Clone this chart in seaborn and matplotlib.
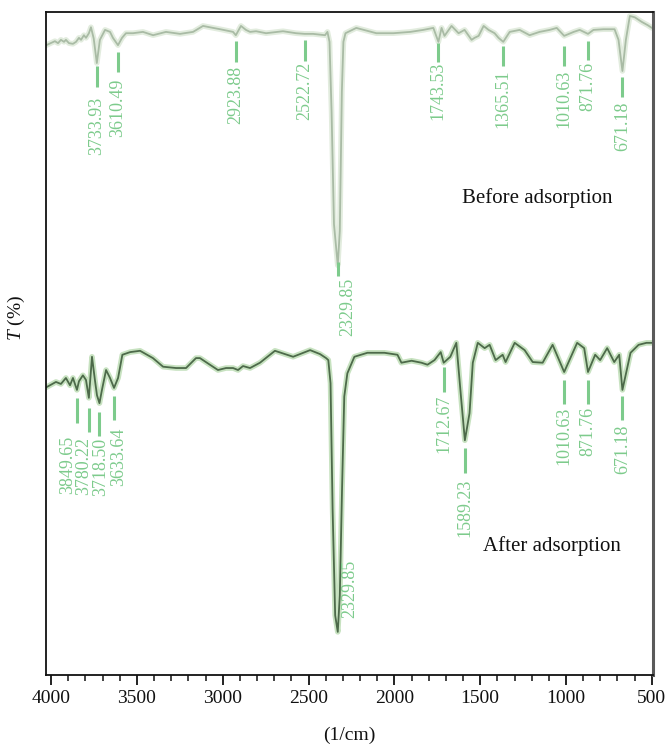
import numpy as np
import pandas as pd
import matplotlib
matplotlib.use("Agg")
import matplotlib.pyplot as plt
import seaborn as sns
from matplotlib.ticker import MultipleLocator

# FTIR spectrum before adsorption: wavenumber (1/cm) and transmittance (%)
before_wn = [4028, 3978, 3960, 3943, 3925, 3914, 3896, 3873, 3855, 3838, 3826, 3809,
             3797, 3780, 3768, 3752, 3733.93, 3716, 3686, 3657, 3640, 3610.49, 3587,
             3564, 3523, 3465, 3406, 3331, 3249, 3173, 3115, 3056, 3015, 2940, 2923.88,
             2894, 2865, 2841, 2806, 2748, 2649, 2573, 2522.72, 2474, 2404, 2390, 2378,
             2366, 2352, 2329.85, 2318, 2306, 2297, 2285, 2222, 2105, 2006, 1907, 1832,
             1773, 1743.53, 1725, 1708, 1667, 1626, 1591, 1550, 1533, 1509, 1480, 1451,
             1416, 1393, 1365.51, 1328, 1270, 1212, 1154, 1095, 1054, 1010.63, 955, 920,
             871.76, 840, 781, 717, 694, 671.18, 651, 628, 599, 558, 523, 500]
before_t = [95.0, 95.6, 95.3, 95.8, 95.5, 95.8, 95.3, 95.2, 95.5, 96.1, 95.8, 96.5,
            96.1, 96.8, 97.7, 96.0, 92.3, 95.8, 97.3, 97.0, 96.1, 95.0, 96.1,
            96.8, 96.8, 97.0, 96.5, 97.0, 96.7, 97.0, 97.9, 97.6, 97.4, 97.0, 96.5,
            97.9, 97.3, 97.0, 97.1, 96.8, 97.1, 96.8, 96.7, 96.7, 96.5, 97.0, 95.5,
            85.0, 68.0, 61.8, 67.0, 88.0, 95.5, 96.8, 97.6, 96.8, 96.8, 97.0, 97.3,
            97.6, 95.5, 97.6, 96.4, 97.9, 96.8, 97.3, 95.8, 96.1, 96.4, 97.9, 97.3,
            96.8, 96.1, 95.5, 97.0, 97.3, 96.5, 97.0, 97.3, 97.6, 96.4, 97.0, 97.3,
            96.7, 97.3, 97.4, 97.4, 95.8, 91.1, 95.8, 99.4, 99.2, 98.5, 98.0, 97.6]

# FTIR spectrum after adsorption
after_wn = [4028, 3972, 3943, 3914, 3890, 3873, 3849.65, 3838, 3815, 3797, 3780.22,
            3762, 3745, 3733, 3718.50, 3704, 3680, 3657, 3633.64, 3610, 3585, 3540,
            3482, 3407, 3348, 3272, 3214, 3156, 3133, 3075, 3028, 2981, 2940, 2911,
            2882, 2841, 2783, 2696, 2590, 2491, 2433, 2398, 2385, 2372, 2360, 2345,
            2329.85, 2318, 2305, 2292, 2274, 2233, 2157, 2058, 1982, 1959, 1900, 1842,
            1807, 1766, 1730, 1712.67, 1674, 1639, 1612, 1589.23, 1562, 1543, 1514,
            1474, 1445, 1410, 1369, 1352, 1299, 1241, 1194, 1136, 1078, 1010.63, 935,
            894, 871.76, 830, 801, 760, 719, 690, 671.18, 624, 577, 531, 500]
after_t = [43.4, 44.2, 43.9, 44.8, 43.7, 44.8, 43.0, 44.3, 45.2, 44.5, 41.8,
           48.0, 44.5, 42.2, 41.0, 43.0, 46.0, 44.8, 43.3, 44.8, 48.3, 48.7,
           48.9, 47.8, 46.5, 46.3, 46.3, 47.8, 47.8, 46.8, 46.0, 46.3, 46.3, 46.0,
           46.6, 46.3, 47.1, 48.9, 48.0, 49.0, 48.4, 47.8, 47.5, 44.0, 25.0, 9.0,
           6.5, 12.0, 28.0, 42.0, 45.5, 48.0, 48.6, 48.6, 48.3, 47.1, 47.4, 47.1,
           46.8, 47.5, 48.7, 47.1, 48.0, 50.1, 42.0, 35.4, 39.5, 47.1, 50.1,
           49.3, 49.8, 47.5, 48.3, 47.2, 50.1, 49.0, 47.2, 47.1, 49.8, 45.7, 50.1,
           49.3, 45.7, 48.3, 47.5, 49.3, 47.2, 48.3, 43.0, 48.6, 49.8, 50.1, 50.1]

# Labelled absorption bands
before_peaks = [3733.93, 3610.49, 2923.88, 2522.72, 2329.85, 1743.53, 1365.51,
                1010.63, 871.76, 671.18]
after_peaks = [3849.65, 3780.22, 3718.50, 3633.64, 2329.85, 1712.67, 1589.23,
               1010.63, 871.76, 671.18]

x_ticks = [4000, 3500, 3000, 2500, 2000, 1500, 1000, 500]

# Per-label layout in pixels: (gap below curve, tick length, gap to text, text shift)
before_layout = [(3, 21, 10, 0), (7, 20, 6, 0), (6, 21, 4, 0), (6, 21, 1, 0),
                 (-3, 14, 1, 10), (1, 19, 0, 0), (4, 20, 4, 0), (10, 20, 4, 0),
                 (7, 19, 2, 0), (6, 20, 5, 0)]
after_layout = [(8, 25, 13, -9), (10, 24, 5, -5), (9, 24, 2, 1), (8, 24, 8, 5),
                (-72, 0, 0, 12), (4, 25, 3, 0), (8, 25, 5, 0), (8, 24, 3, 0),
                (8, 24, 3, 0), (6, 24, 5, 0)]

sns.set_style("ticks")
plt.rcParams["font.family"] = ["Liberation Serif", "DejaVu Serif"]
plt.rcParams["mathtext.fontset"] = "custom"
plt.rcParams["mathtext.rm"] = "Liberation Serif"
plt.rcParams["mathtext.it"] = "Liberation Serif:italic"

W, H = 667, 745
fig = plt.figure(figsize=(W / 100, H / 100), dpi=100)
ax = fig.add_axes([46 / W, 1 - 675 / H, 607 / W, 663 / H])

XL = (4030, 493)
YL = (0, 100)
PX_X = (XL[0] - XL[1]) / 607.0
PX_Y = (YL[1] - YL[0]) / 663.0

GREEN = "#7dcb8c"

df_before = pd.DataFrame({"wn": before_wn, "trans": before_t})
df_after = pd.DataFrame({"wn": after_wn, "trans": after_t})

curves = [(df_before, "#e2ecde", "#a9bba5"), (df_after, "#c7e2c0", "#4d6a4a")]
for df, halo, core in curves:
    sns.lineplot(data=df, x="wn", y="trans", ax=ax, color=halo, lw=4.0,
                 estimator=None, sort=False, legend=False)
    sns.lineplot(data=df, x="wn", y="trans", ax=ax, color=core, lw=1.3,
                 estimator=None, sort=False, legend=False)


def label_band(df, wn, gap, length, tgap, dx):
    t0 = np.interp(wn, df["wn"].values[::-1], df["trans"].values[::-1])
    top = t0 - gap * PX_Y
    bottom = top - length * PX_Y
    if length > 0:
        ax.plot([wn, wn], [top, bottom], color=GREEN, lw=2.2, solid_capstyle="butt")
    ax.text(wn - dx * PX_X, bottom - tgap * PX_Y, f"{wn:.2f}", rotation=90,
            ha="center", va="top", color=GREEN, fontsize=13)


for wn, lay in zip(before_peaks, before_layout):
    label_band(df_before, wn, *lay)
for wn, lay in zip(after_peaks, after_layout):
    label_band(df_after, wn, *lay)

ax.text(0.685, 0.719, "Before adsorption", transform=ax.transAxes,
        ha="left", va="center", fontsize=15, color="#111111")
ax.text(0.720, 0.195, "After adsorption", transform=ax.transAxes,
        ha="left", va="center", fontsize=15, color="#111111")

ax.set_xlim(*XL)
ax.set_ylim(*YL)
ax.set_xticks(x_ticks)
ax.set_xticklabels([str(t) for t in x_ticks])
ax.xaxis.set_minor_locator(MultipleLocator(100))
ax.set_yticks([])
ax.tick_params(axis="x", which="major", direction="out", length=7, width=1.3,
               labelsize=14, pad=4, colors="#111111")
ax.tick_params(axis="x", which="minor", direction="out", length=4, width=1.1,
               colors="#111111")

for side in ["top", "left", "bottom"]:
    ax.spines[side].set_color("#111111")
    ax.spines[side].set_linewidth(1.3)
ax.spines["right"].set_color("#5a5a5a")
ax.spines["right"].set_linewidth(2.2)

ax.set_xlabel("(1/cm)", fontsize=14, labelpad=14, color="#111111")
ax.set_ylabel(r"$T$ (%)", fontsize=14, color="#111111")
ax.yaxis.set_label_coords(-0.031, 0.538)

fig.savefig("out.png", dpi=100)
